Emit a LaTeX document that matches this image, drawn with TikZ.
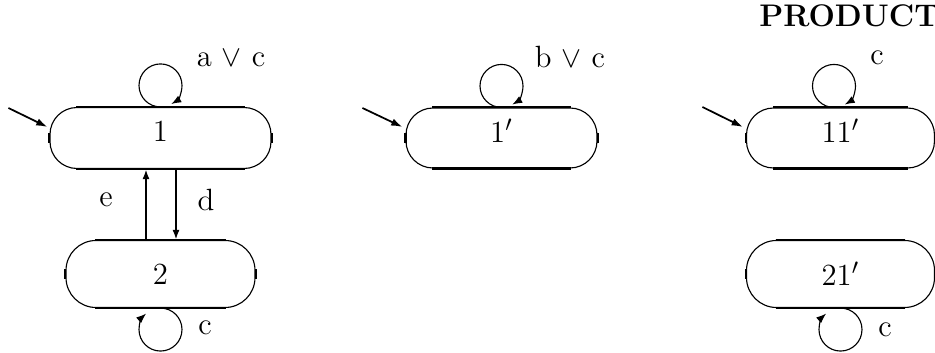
\documentclass[tikz,border=0pt]{standalone}
\usetikzlibrary{calc,arrows.meta}
\newcommand\boxedges[2]{%
  \draw[thickedge] ([xshift=#2]#1.north west) -- ([xshift=-#2]#1.north east);
  \draw[thickedge] ([xshift=#2]#1.south west) -- ([xshift=-#2]#1.south east);
  \draw[thickedge] ([yshift=-2pt]#1.west) -- ([yshift=2pt]#1.west);
  \draw[thickedge] ([yshift=-2pt]#1.east) -- ([yshift=2pt]#1.east);}
\begin{document}
\begin{tikzpicture}[x=0.4pt,y=0.4pt,font=\fontsize{12.3}{14}\selectfont,
  state/.style={draw, line width=0.45pt, inner sep=0pt},
  thickedge/.style={line width=0.85pt},
  loopline/.style={line width=0.45pt, -{Latex[length=4pt,width=3pt]}},
  trans/.style={line width=0.8pt, -{Latex[length=4pt,width=2.8pt]}},
  init/.style={line width=0.7pt, -{Latex[length=4.5pt,width=3pt]}},
  lbl/.style={inner sep=0pt}]
\useasboundingbox (0,0) rectangle (935,353);
% states
\node[state, rounded corners=10.8pt, minimum width=88.4pt, minimum height=24.4pt] (n1) at (160.5,215) {};
\node[state, rounded corners=12pt, minimum width=75.6pt, minimum height=26.8pt] (n2) at (160.5,79) {};
\node[state, rounded corners=10.8pt, minimum width=76.4pt, minimum height=24pt] (n1p) at (501.5,215) {};
\node[state, rounded corners=10.8pt, minimum width=75.2pt, minimum height=24pt] (n11p) at (840.5,215) {};
\node[state, rounded corners=12pt, minimum width=75.2pt, minimum height=26.8pt] (n21p) at (840.5,79) {};
\boxedges{n1}{10.8pt}
\boxedges{n2}{12pt}
\boxedges{n1p}{10.8pt}
\boxedges{n11p}{10.8pt}
\boxedges{n21p}{12pt}
% state texts
\node[lbl] (t1) at ($(n1.center)+(0,7)$) {1};
\node[lbl] (t2) at (n2.center) {2};
\node[lbl] (t1p) at ($(n1p.center)+(0,7)$) {1$'$};
\node[lbl] (t11p) at ($(n11p.center)+(0,7)$) {11$'$};
\node[lbl] (t21p) at (n21p.center) {21$'$};
% self loops
\coordinate (c1) at ($(n1.north)+(0,21.5)$);
\coordinate (c1p) at ($(n1p.north)+(0,21.5)$);
\coordinate (c11p) at ($(n11p.north)+(-6.5,21.5)$);
\coordinate (c2) at ($(n2.south)+(0,-21.5)$);
\coordinate (c21p) at ($(n21p.south)+(0,-21.5)$);
\draw[loopline] (c1) ++(-90:8.6pt) arc[start angle=-90, end angle=-420, radius=8.6pt];
\draw[loopline] (c1p) ++(-90:8.6pt) arc[start angle=-90, end angle=-420, radius=8.6pt];
\draw[loopline] (c11p) ++(-90:8.6pt) arc[start angle=-90, end angle=-420, radius=8.6pt];
\draw[loopline] (c2) ++(90:8.6pt) arc[start angle=90, end angle=-228, radius=8.6pt];
\draw[loopline] (c21p) ++(90:8.6pt) arc[start angle=90, end angle=-228, radius=8.6pt];
% transitions between 1 and 2
\draw[trans] ($(n2.north)+(-14.5,0)$) -- ($(n1.south)+(-14.5,0)$);
\draw[trans] ($(n1.south)+(15.5,0)$) -- ($(n2.north)+(15.5,0)$);
% initial arrows
\coordinate (i1) at ($(n1.west)+(-41,30)$);
\coordinate (i1p) at ($(n1p.west)+(-43,30)$);
\coordinate (i11p) at ($(n11p.west)+(-43.5,31)$);
\draw[init] (i1) -- ($(n1.west)+(-2,11)$);
\draw[init] (i1p) -- ($(n1p.west)+(-3,11)$);
\draw[init] (i11p) -- ($(n11p.west)+(-3,11)$);
% labels
\node[lbl] (la1) at (231,295) {a $\vee$ c};
\node[lbl] (la1p) at (570,296) {b $\vee$ c};
\node[lbl] (la11p) at (877,295) {c};
\node[lbl] (le) at (106,153) {e};
\node[lbl] (ld) at (206,153) {d};
\node[lbl] (la2) at (205,25) {c};
\node[lbl] (la21p) at (885,23) {c};
\node[lbl, font=\fontsize{12.5}{15}\selectfont\bfseries] (title) at (849,337) {PRODUCT};
\end{tikzpicture}
\end{document}
